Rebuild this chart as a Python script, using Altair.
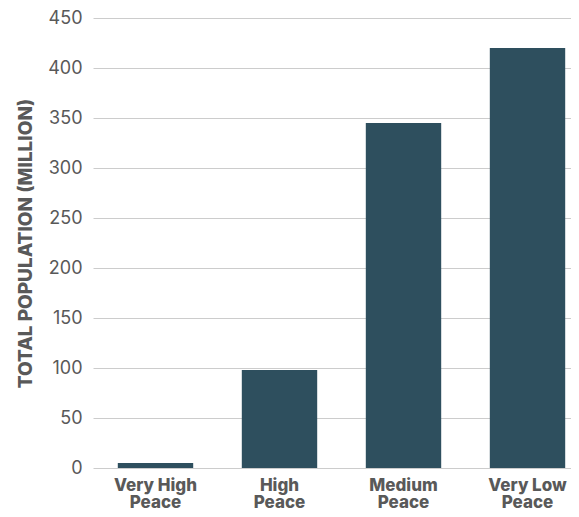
import altair as alt
import pandas as pd

categories = ["Very High Peace", "High Peace", "Medium Peace", "Very Low Peace"]
population = [5, 98, 345, 420]
y_ticks = [0, 50, 100, 150, 200, 250, 300, 350, 400, 450]

df = pd.DataFrame({"category": categories, "population": population})

FONT = "Inter"
GRAY = "#595959"

chart = alt.Chart(df).mark_bar(color="#2E4F5E").encode(
    x=alt.X(
        "category:N",
        sort=categories,
        scale=alt.Scale(range=[0, 497], paddingInner=0.392, paddingOuter=0.2),
        axis=alt.Axis(
            title=None,
            labelAngle=0,
            labelExpr="[replace(datum.label, ' Peace', ''), 'Peace']",
            labelFont=FONT,
            labelFontWeight=800,
            labelFontSize=17,
            labelColor=GRAY,
            labelLineHeight=17,
            labelPadding=9,
            labelBound=False,
            labelOverlap=False,
            ticks=False,
            domain=False,
            grid=False,
        ),
    ),
    y=alt.Y(
        "population:Q",
        scale=alt.Scale(domain=[0, 450], nice=False),
        axis=alt.Axis(
            title="TOTAL POPULATION (MILLION)",
            titleFont=FONT,
            titleFontWeight=800,
            titleFontSize=19,
            titleColor=GRAY,
            titlePadding=12,
            values=y_ticks,
            labelFont=FONT,
            labelFontSize=18,
            labelColor=GRAY,
            labelPadding=11,
            ticks=False,
            domain=False,
            grid=True,
            gridColor="#cccccc",
            gridWidth=1,
        ),
    ),
).properties(
    width=478,
    height=450,
    autosize=alt.AutoSizeParams(type="none"),
    padding={"left": 85, "top": 10, "right": 0, "bottom": 41},
).configure_view(stroke=None)

chart.save("out.html", embed_options={"renderer": "svg", "actions": False})
